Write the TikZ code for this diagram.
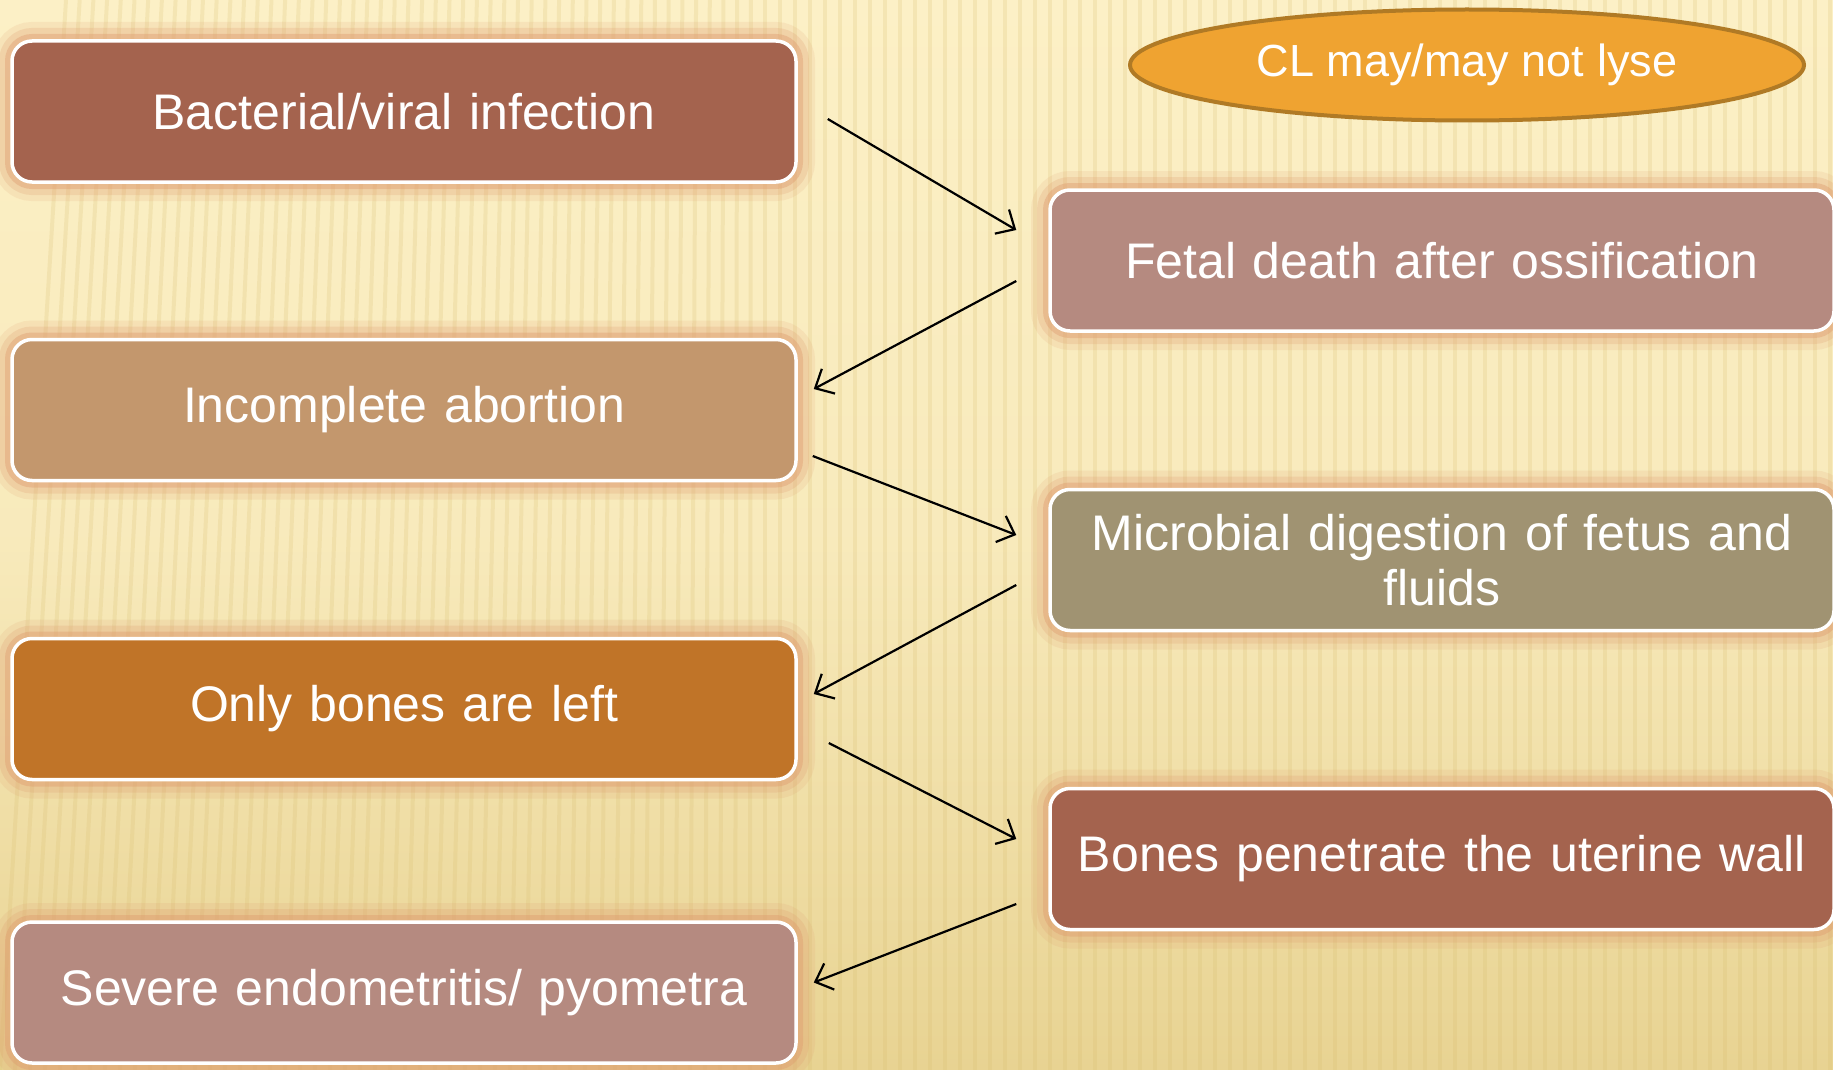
\documentclass[tikz,border=0pt]{standalone}
\usepackage{fontspec}
\setmainfont{Liberation Sans}
\usetikzlibrary{calc,arrows.meta,shapes.geometric}
\definecolor{bgtop}{HTML}{FCF0C6}
\definecolor{bgbot}{HTML}{E8D392}
\definecolor{stripec}{HTML}{D6BA6A}
\definecolor{glowc}{HTML}{DE9A6E}
\definecolor{cRed}{HTML}{A4634E}
\definecolor{cTan}{HTML}{C3976D}
\definecolor{cOrange}{HTML}{C07428}
\definecolor{cMauve}{HTML}{B58A80}
\definecolor{cOlive}{HTML}{A09372}
\definecolor{cEllFill}{HTML}{EFA331}
\definecolor{cEllDraw}{HTML}{B07A25}
\tikzset{
  stripe/.style={draw=stripec, line width=4pt, opacity=0.2},
  boxnode/.style={rectangle, rounded corners=20pt, draw=white, line width=3.5pt,
    minimum width=784pt, minimum height=141pt, text width=778pt, align=center,
    inner xsep=2pt, text=white, font=\fontsize{50}{55}\selectfont,
    preaction={draw=glowc, line width=38pt, opacity=0.14},
    preaction={draw=glowc, line width=26pt, opacity=0.22},
    preaction={draw=glowc, line width=14pt, opacity=0.4}},
  ellnode/.style={ellipse, draw=cEllDraw, fill=cEllFill, line width=4pt,
    minimum width=674pt, minimum height=111pt, inner sep=0pt,
    text=white, font=\fontsize{45}{50}\selectfont},
  conn/.style={draw=black, line width=2.2pt, -{Straight Barb[length=15pt,width=28pt,line width=2.2pt]}}
}
\begin{document}
\begin{tikzpicture}[x=1pt,y=-1pt]
\useasboundingbox (0,0) rectangle (1833,1070);
\shade[top color=bgtop, bottom color=bgbot, middle color=bgtop!80!bgbot] (0,0) rectangle (1833,1070);
\foreach \x in {0,15,...,1845} {
  \pgfmathsetmacro{\sl}{\x<760 ? 0.22*(760-\x)/760*300 : 0}
  \draw[stripe] (\x+\sl,0) -- (\x,1070);
}
% left column
\node[boxnode, fill=cRed]    (L1) at (404,111.5) {Bacterial/viral infection};
\node[boxnode, fill=cTan]    (L2) at (404,410)   {Incomplete abortion};
\node[boxnode, fill=cOrange] (L3) at (404,709)   {Only bones are left};
\node[boxnode, fill=cMauve]  (L4) at (404,992.5) {Severe endometritis/ pyometra};
% right column
\node[boxnode, fill=cMauve]  (R1) at (1442,260.5) {Fetal death after ossification};
\node[boxnode, fill=cOlive]  (R2) at (1442,560)   {Microbial digestion of fetus and\\fluids};
\node[boxnode, fill=cRed]    (R3) at (1442,859)   {Bones penetrate the uterine wall};
% ellipse
\node[ellnode] (CL) at (1467,65) {CL may/may not lyse};
% connectors
\draw[conn] ($(L1.east)+(30,7.5)$)  -- ($(R1.west)+(-32,-30.5)$);
\draw[conn] ($(R1.west)+(-32,20.5)$) -- ($(L2.east)+(16,-21)$);
\draw[conn] ($(L2.east)+(15,46)$)   -- ($(R2.west)+(-32,-25)$);
\draw[conn] ($(R2.west)+(-32,25)$)  -- ($(L3.east)+(16,-15)$);
\draw[conn] ($(L3.east)+(31,34)$)   -- ($(R3.west)+(-32,-20)$);
\draw[conn] ($(R3.west)+(-32,45)$)  -- ($(L4.east)+(16,-10)$);
\end{tikzpicture}
\end{document}
